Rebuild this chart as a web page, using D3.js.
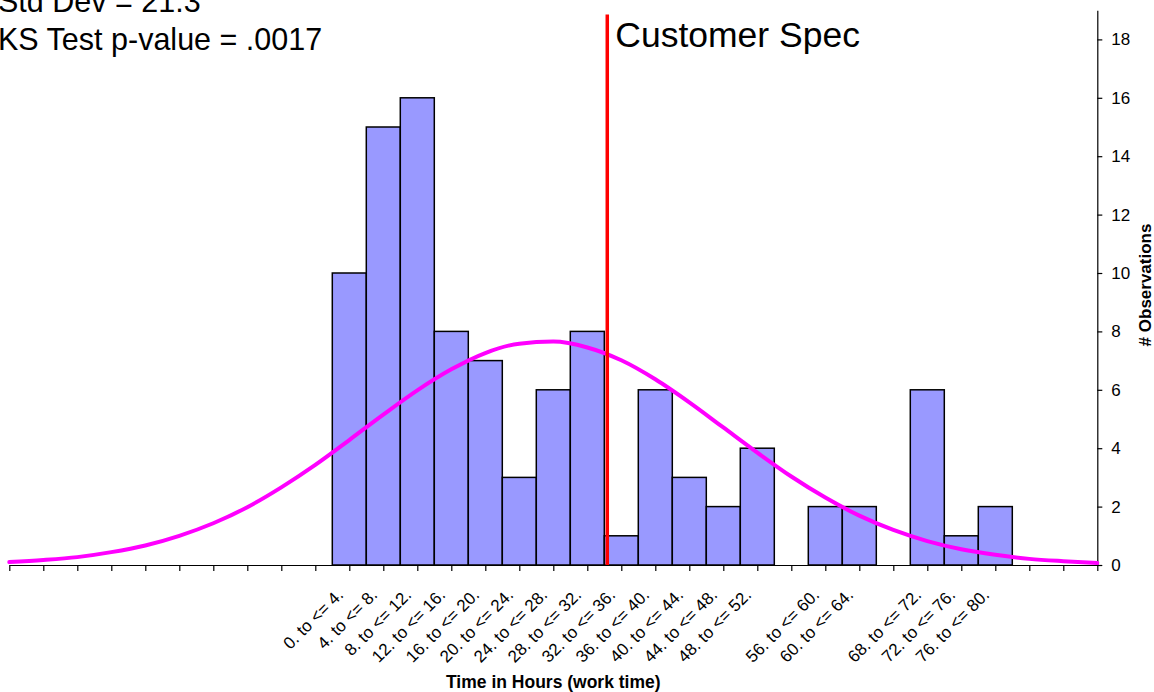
<!DOCTYPE html>
<html>
<head>
<meta charset="utf-8">
<script src="https://cdn.jsdelivr.net/npm/d3@7"></script>
<style>
  html, body { margin: 0; padding: 0; background: #fff; }
  svg { display: block; font-family: Arial, "Liberation Sans", sans-serif; }
</style>
</head>
<body>
<svg id="chart" width="1154" height="692"></svg>
<script>
// ---- Data ----
const binLabels = ["0. to <= 4.", "4. to <= 8.", "8. to <= 12.", "12. to <= 16.", "16. to <= 20.",
  "20. to <= 24.", "24. to <= 28.", "28. to <= 32.", "32. to <= 36.", "36. to <= 40.",
  "40. to <= 44.", "44. to <= 48.", "48. to <= 52.", "52. to <= 56.", "56. to <= 60.",
  "60. to <= 64.", "64. to <= 68.", "68. to <= 72.", "72. to <= 76.", "76. to <= 80."];
const binStart = [0, 4, 8, 12, 16, 20, 24, 28, 32, 36, 40, 44, 48, 52, 56, 60, 64, 68, 72, 76];
const binWidth = 4;
const counts = [10, 15, 16, 8, 7, 3, 6, 8, 1, 6, 3, 2, 4, 0, 2, 2, 0, 6, 1, 2];

// fitted normal curve, values read at each tick position
const curveHours = [-38, -34, -30, -26, -22, -18, -14, -10, -6, -2, 2, 6, 10, 14, 18, 22, 26,
  30, 34, 38, 42, 46, 50, 54, 58, 62, 66, 70, 74, 78, 82, 86, 90];
const curveValues = [0.10, 0.17, 0.27, 0.44, 0.67, 1.00, 1.43, 1.98, 2.66, 3.43, 4.28, 5.15,
  5.98, 6.70, 7.26, 7.58, 7.65, 7.45, 7.01, 6.36, 5.57, 4.71, 3.85, 3.03, 2.31, 1.69, 1.20,
  0.82, 0.54, 0.35, 0.21, 0.13, 0.07];

const specHours = 32.35;
const specTop = 18.85;
const yTicks = [0, 2, 4, 6, 8, 10, 12, 14, 16, 18];
const statsText = ["Std Dev = 21.3", "KS Test p-value = .0017"];
const specLabel = "Customer Spec";
const xTitle = "Time in Hours (work time)";
const yTitle = "# Observations";

// ---- Layout ----
const svg = d3.select("#chart");
const x = d3.scaleLinear().domain([-38, 90]).range([9.3, 1097.3]);
const y = d3.scaleLinear().domain([0, 19]).range([565, 10.2]);

// bars
svg.append("g").selectAll("rect")
  .data(binStart.map((s, i) => ({ s, c: counts[i] })).filter(d => d.c > 0))
  .join("rect")
  .attr("x", d => x(d.s))
  .attr("width", d => x(d.s + binWidth) - x(d.s))
  .attr("y", d => y(d.c))
  .attr("height", d => y(0) - y(d.c))
  .attr("fill", "#9999FF")
  .attr("stroke", "#000")
  .attr("stroke-width", 1.5);

// x axis (ticks at bin centres)
const tickVals = d3.range(-38, 91, 4);
const xAxis = d3.axisBottom(x).tickValues(tickVals).tickSize(6).tickFormat("").tickSizeOuter(0);
const gx = svg.append("g").attr("transform", `translate(0,${y(0)})`).call(xAxis);
gx.select(".domain").attr("stroke", "#000").attr("stroke-width", 1.2);
gx.selectAll(".tick line").attr("stroke", "#000").attr("stroke-width", 1.2);

// x category labels
svg.append("g").selectAll("text")
  .data(binLabels.map((l, i) => ({ l, s: binStart[i], c: counts[i] })).filter(d => d.c > 0))
  .join("text")
  .attr("transform", d => `translate(${x(d.s + binWidth / 2) - 5},596) rotate(-45)`)
  .attr("text-anchor", "end")
  .attr("font-size", 17)
  .attr("fill", "#000")
  .text(d => d.l);

// right y axis
const yAxis = d3.axisRight(y).tickValues(yTicks).tickSize(5).tickPadding(9).tickSizeOuter(0);
const gy = svg.append("g").attr("transform", `translate(${x(90)},0)`).call(yAxis);
gy.select(".domain").attr("stroke", "#000").attr("stroke-width", 1.2);
gy.selectAll(".tick line").attr("stroke", "#000").attr("stroke-width", 1.2);
gy.selectAll(".tick text").attr("font-size", 17).attr("font-family", "Arial, 'Liberation Sans', sans-serif").attr("fill", "#000");

// normal curve
const line = d3.line().x((d, i) => x(curveHours[i])).y(d => y(d)).curve(d3.curveMonotoneX);
svg.append("path")
  .datum(curveValues)
  .attr("d", line)
  .attr("fill", "none")
  .attr("stroke", "#FF00FF")
  .attr("stroke-width", 4)
  .attr("stroke-linecap", "round");

// customer spec line
svg.append("line")
  .attr("x1", x(specHours)).attr("x2", x(specHours))
  .attr("y1", y(specTop)).attr("y2", y(0))
  .attr("stroke", "#FF0000").attr("stroke-width", 3.5);

svg.append("text")
  .attr("x", x(specHours) + 8).attr("y", 47)
  .attr("font-size", 35.5).attr("fill", "#000")
  .text(specLabel);

// stats text (top-left)
svg.append("g").selectAll("text")
  .data(statsText)
  .join("text")
  .attr("x", -2)
  .attr("y", (d, i) => 12 + i * 38)
  .attr("font-size", 30.5)
  .attr("fill", "#000")
  .text(d => d);

// axis titles
svg.append("text")
  .attr("x", (x(-38) + x(90)) / 2).attr("y", 688)
  .attr("text-anchor", "middle")
  .attr("font-size", 17.5).attr("font-weight", "bold")
  .text(xTitle);

svg.append("text")
  .attr("transform", `translate(1151,285) rotate(-90)`)
  .attr("text-anchor", "middle")
  .attr("font-size", 17).attr("font-weight", "bold")
  .text(yTitle);
</script>
</body>
</html>
